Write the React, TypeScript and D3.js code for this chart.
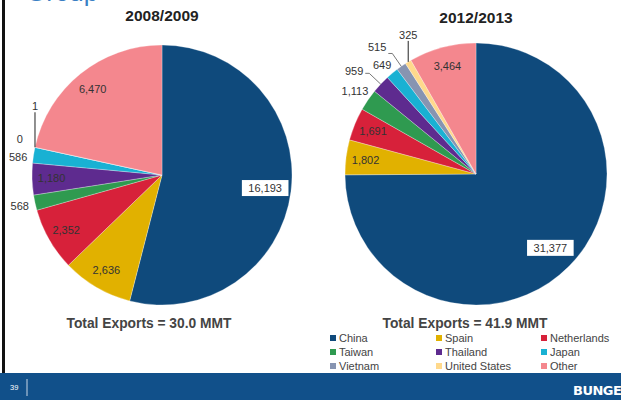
import React from "react";
import * as d3 from "d3";

const countries = ["China", "Spain", "Netherlands", "Taiwan", "Thailand", "Japan", "Vietnam", "United States", "Other"];
const colors = ["#0f4a7c", "#e1b100", "#d7213a", "#2f9a50", "#5e2b8f", "#19b1d3", "#8794b1", "#ffd98c", "#f4878e"];
const values2008 = [16193, 2636, 2352, 568, 1180, 586, 0, 1, 6470];
const values2012 = [31377, 1802, 1691, 1113, 959, 649, 515, 325, 3464];
const modes2008 = ["box", "in", "in", "out", "in", "out", "out", "up", "in"];
const modes2012 = ["box", "in", "in", "out", "diag", "out", "diag", "up", "in"];
const titles = ["2008/2009", "2012/2013"];
const totals = ["Total Exports = 30.0 MMT", "Total Exports = 41.9 MMT"];

const W = 621;
const H = 400;
const fmt = d3.format(",");
const FONT = "Liberation Sans, Arial, sans-serif";
const CHAR_W = 6.1;

type PieCfg = { cx: number; cy: number; r: number; values: number[]; modes: string[]; upLen: number; title: string; titleY: number };

const pies: PieCfg[] = [
  { cx: 162, cy: 175, r: 130, values: values2008, modes: modes2008, upLen: 35, title: titles[0], titleY: 21 },
  { cx: 476, cy: 174, r: 131, values: values2012, modes: modes2012, upLen: 21, title: titles[1], titleY: 22.5 },
];

type Lab = { i: number; mode: string; text: string; x: number; y: number; anchor: string; x0?: number; y0?: number; x1?: number; y1?: number };

function Pie({ cfg }: { cfg: PieCfg }) {
  const pieGen = d3.pie<number>().sort(null).value((d) => d);
  const arcs = pieGen(cfg.values);
  const arc = d3.arc<d3.PieArcDatum<number>>().innerRadius(0).outerRadius(cfg.r);
  const at = (rad: number, a: number) => [Math.sin(a) * rad, -Math.cos(a) * rad];

  const labs: Lab[] = arcs.map((a, i) => {
    const mid = (a.startAngle + a.endAngle) / 2;
    const mode = cfg.modes[i];
    const text = fmt(cfg.values[i]);
    if (mode === "box") {
      const [x, y] = at(cfg.r * 0.8, mid);
      return { i, mode, text, x, y, anchor: "middle" };
    }
    if (mode === "in") {
      const [x, y] = at(cfg.r * 0.85, mid);
      return { i, mode, text, x, y, anchor: "middle" };
    }
    if (mode === "out") {
      const [x, y] = at(cfg.r * 1.12, mid);
      return { i, mode, text, x, y, anchor: "middle" };
    }
    if (mode === "up") {
      const [x, y] = at(cfg.r, mid);
      return { i, mode, text, x, y: y - cfg.upLen - 2, anchor: "middle", x0: x, y0: y, x1: x, y1: y - cfg.upLen };
    }
    const [x0, y0] = at(cfg.r, mid);
    const [x1, y1] = at(cfg.r * 1.12, mid);
    return { i, mode, text, x: x1 - 6, y: y1 - 2, anchor: "end", x0, y0, x1, y1 };
  });

  // simple collision avoidance for outside labels
  const outs = labs.filter((l) => l.mode === "out" || l.mode === "diag");
  const box = (l: Lab) => {
    const w = l.text.length * CHAR_W;
    const left = l.anchor === "end" ? l.x - w : l.x - w / 2;
    return [left, left + w];
  };
  const GAP = 18;
  for (let iter = 0; iter < 5; iter++) {
    for (let a = 0; a < outs.length; a++) {
      for (let b = a + 1; b < outs.length; b++) {
        const A = outs[a], B = outs[b];
        const [al, ar] = box(A);
        const [bl, br] = box(B);
        if (ar <= bl || br <= al) continue;
        const dy = B.y - A.y;
        if (Math.abs(dy) < GAP) {
          const push = (GAP - Math.abs(dy)) / 2;
          const s = dy >= 0 ? 1 : -1;
          A.y -= s * push;
          B.y += s * push;
        }
      }
    }
  }

  const ts = { fontFamily: FONT, fontSize: 11, fill: "#333" } as any;
  return (
    <g transform={`translate(${cfg.cx},${cfg.cy})`}>
      {arcs.map((a, i) => (
        <path key={i} d={arc(a) || ""} fill={colors[i]} stroke="#ffffff" strokeWidth={0.4} strokeOpacity={0.7} />
      ))}
      {labs.map((l) => {
        if (l.mode === "box") {
          const w = l.text.length * CHAR_W + 10;
          return (
            <g key={"l" + l.i}>
              <rect x={l.x - w / 2} y={l.y - 8} width={w} height={16} fill="#fff" />
              <text x={l.x} y={l.y} dy="0.35em" textAnchor="middle" {...ts}>{l.text}</text>
            </g>
          );
        }
        if (l.mode === "up") {
          return (
            <g key={"l" + l.i}>
              <line x1={l.x0} y1={l.y0} x2={l.x1} y2={l.y1} stroke="#222" strokeWidth={1} />
              <text x={l.x} y={l.y} textAnchor="middle" {...ts}>{l.text}</text>
            </g>
          );
        }
        if (l.mode === "diag") {
          return (
            <g key={"l" + l.i}>
              <polyline points={`${l.x0},${l.y0} ${l.x1},${l.y1} ${(l.x1 as number) - 4},${l.y1}`} fill="none" stroke="#555" strokeWidth={0.8} />
              <text x={l.x} y={l.y} dy="0.35em" textAnchor="end" {...ts}>{l.text}</text>
            </g>
          );
        }
        return <text key={"l" + l.i} x={l.x} y={l.y} dy="0.35em" textAnchor="middle" {...ts}>{l.text}</text>;
      })}
    </g>
  );
}

export default function App() {
  const colX = [333, 439, 544];
  const rowY = [338, 352, 366];
  return (
    <svg width={W} height={H} style={{ position: "absolute", left: 0, top: 0, background: "#fff" }}>
      <rect x={0} y={0} width={W} height={H} fill="#fff" />
      <text x={26} y={0.8} fontFamily={FONT} fontSize={26} fill="#3b7fc4">Group</text>
      <rect x={2} y={0} width={3} height={373} fill="#111" />
      {pies.map((p, i) => (
        <g key={i}>
          <text x={p.cx} y={p.titleY} textAnchor="middle" fontFamily={FONT} fontWeight="bold" fontSize={15.5} fill="#222">{p.title}</text>
          <Pie cfg={p} />
        </g>
      ))}
      <text x={149} y={328} textAnchor="middle" fontFamily={FONT} fontWeight="bold" fontSize={13.8} fill="#444">{totals[0]}</text>
      <text x={465} y={328} textAnchor="middle" fontFamily={FONT} fontWeight="bold" fontSize={13.8} fill="#444">{totals[1]}</text>
      {countries.map((c, i) => {
        const x = colX[i % 3];
        const y = rowY[Math.floor(i / 3)];
        return (
          <g key={c}>
            <rect x={x - 3} y={y - 3} width={6} height={6} fill={colors[i]} />
            <text x={x + 6} y={y} dy="0.35em" fontFamily={FONT} fontSize={11} fill="#444">{c}</text>
          </g>
        );
      })}
      <rect x={0} y={373} width={W} height={27} fill="#11508a" />
      <text x={10} y={390} fontFamily={FONT} fontSize={7.5} fill="#fff">39</text>
      <line x1={27} y1={379} x2={27} y2={396} stroke="#c8d6e6" strokeWidth={1} />
      <text x={573} y={395} fontFamily="DejaVu Sans, sans-serif" fontWeight="bold" fontSize={13} fill="#fff" letterSpacing={-0.5}>BUNGE</text>
    </svg>
  );
}
